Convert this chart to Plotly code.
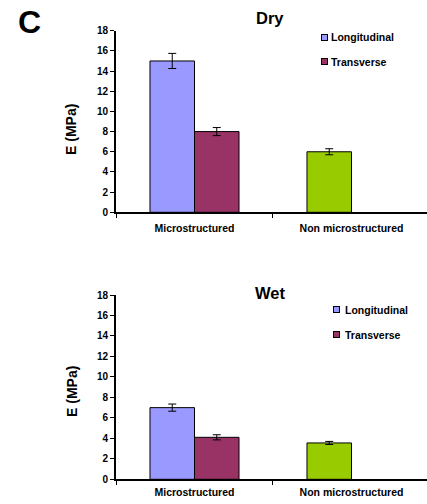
import plotly.graph_objects as go

categories = ["Microstructured", "Non microstructured"]
series_names = ["Longitudinal", "Transverse"]

dry_long = [15.0, 6.0]
dry_long_err = [0.75, 0.3]
dry_trans = [8.0, None]
dry_trans_err = [0.4, 0]

wet_long = [7.0, 3.55]
wet_long_err = [0.35, 0.15]
wet_trans = [4.1, None]
wet_trans_err = [0.25, 0]

y_ticks = [0, 2, 4, 6, 8, 10, 12, 14, 16, 18]

COL_LONG = "#9999FF"
COL_TRANS = "#993366"
COL_NON = "#99CC00"
FONT = "Liberation Sans"

W, H = 427, 504

fig = go.Figure()

def add_panel(long_vals, long_err, trans_vals, trans_err, xa, ya):
    fig.add_trace(go.Bar(
        x=categories, y=long_vals, name=series_names[0],
        marker=dict(color=[COL_LONG, COL_NON], line=dict(color="black", width=1)),
        error_y=dict(type="data", array=long_err, color="black", thickness=1, width=4),
        xaxis=xa, yaxis=ya, showlegend=False,
    ))
    fig.add_trace(go.Bar(
        x=categories, y=trans_vals, name=series_names[1],
        marker=dict(color=COL_TRANS, line=dict(color="black", width=1)),
        error_y=dict(type="data", array=trans_err, color="black", thickness=1, width=4),
        xaxis=xa, yaxis=ya, showlegend=False,
    ))

add_panel(dry_long, dry_long_err, dry_trans, dry_trans_err, "x", "y")
add_panel(wet_long, wet_long_err, wet_trans, wet_trans_err, "x2", "y2")

x0 = 116 / W
top_dom = [1 - 212.3 / H, 1 - 30.7 / H]
bot_dom = [1 - 479.3 / H, 1 - 295 / H]

xaxis_common = dict(
    type="category", range=[-0.5, 1.481], showline=True, linecolor="black", linewidth=2,
    ticks="outside", ticklen=4, tickcolor="black", tickson="boundaries",
    tickfont=dict(family=FONT, size=10.5, color="black", weight="bold"),
    showgrid=False, zeroline=False, fixedrange=True, automargin=False,
)
yaxis_common = dict(
    range=[0, 18], tickvals=y_ticks, showline=True, linecolor="black", linewidth=2,
    ticks="outside", ticklen=4, tickcolor="black",
    tickfont=dict(family=FONT, size=10, color="black", weight="bold"),
    showgrid=False, zeroline=False, automargin=False, fixedrange=True,
)

def txt(text, x, y, size, angle=0, xanchor="center"):
    return dict(text=text, x=x / W, y=1 - y / H, xref="paper", yref="paper", showarrow=False,
                textangle=angle, xanchor=xanchor, yanchor="middle",
                font=dict(family=FONT, size=size, color="black", weight="bold"))

def key(x, y, color):
    return dict(text="", x=x / W, y=1 - y / H, xref="paper", yref="paper", showarrow=False,
                width=5, height=5, bgcolor=color, bordercolor="black", borderwidth=1, borderpad=0,
                xanchor="center", yanchor="middle")

legend_anns = []
for (sx, tx, ys) in [(324.5, 329, (37.5, 61.5)), (336, 343, (309.5, 334.5))]:
    for nm, col, yy in zip(series_names, [COL_LONG, COL_TRANS], ys):
        legend_anns.append(key(sx, yy, col))
        legend_anns.append(txt(nm, tx, yy, 10.5, xanchor="left"))

fig.update_layout(
    width=W, height=H, margin=dict(l=0, r=0, t=0, b=0, autoexpand=False),
    paper_bgcolor="white", plot_bgcolor="white",
    barmode="group", bargap=0.433, bargroupgap=0, showlegend=False,
    xaxis=dict(domain=[x0, 1], anchor="y", ticklabelstandoff=5, **xaxis_common),
    yaxis=dict(domain=top_dom, anchor="x", **yaxis_common),
    xaxis2=dict(domain=[x0, 1], anchor="y2", ticklabelstandoff=2, **xaxis_common),
    yaxis2=dict(domain=bot_dom, anchor="x2", **yaxis_common),
    annotations=[
        txt("C", 29, 22, 32),
        txt("Dry", 270, 18, 16.5),
        txt("Wet", 270, 293, 16.5),
        txt("E (MPa)", 71, 130, 14, angle=-90),
        txt("E (MPa)", 72, 392, 14, angle=-90),
    ] + legend_anns,
)

fig.write_html("out.html", config={"displayModeBar": False},
               post_script="document.body.style.margin='0';document.body.style.overflow='hidden';")
